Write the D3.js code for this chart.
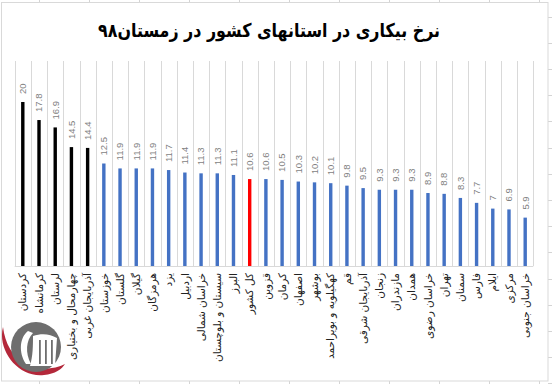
<!DOCTYPE html>
<html><head><meta charset="utf-8">
<script src="https://cdn.jsdelivr.net/npm/d3@7/dist/d3.min.js"></script>
<style>html,body{margin:0;padding:0;background:#fff;} svg{display:block;}</style>
</head><body>
<svg id="c" width="552" height="384"></svg>
<script>
const title = "نرخ بیکاری در استانهای کشور در زمستان۹۸";
const categories = [
  "کردستان","کرمانشاه","لرستان","چهارمحال و بختیاری","آذربایجان غربی",
  "خوزستان","گلستان","گیلان","هرمزگان","یزد","اردبیل","خراسان شمالی",
  "سیستان و بلوچستان","البرز","کل کشور","قزوین","کرمان","اصفهان","بوشهر",
  "کهگیلویه و بویراحمد","قم","آذربایجان شرقی","زنجان","مازندران","همدان",
  "خراسان رضوی","تهران","سمنان","فارس","ایلام","مرکزی","خراسان جنوبی"
];
const values = [20,17.8,16.9,14.5,14.4,12.5,11.9,11.9,11.9,11.7,11.4,11.3,
  11.3,11.1,10.6,10.6,10.5,10.3,10.2,10.1,9.8,9.5,9.3,9.3,9.3,8.9,8.8,8.3,7.7,7,6.9,5.9];
const topGroupCount = 5;
const nationalCategory = "کل کشور";
const yDomain = [0, 25];

const svg = d3.select("#c");
const grid = "#d9d9d9";

// spreadsheet cell lines around the chart
const cells = svg.append("g").attr("stroke", "#d4d4d4").attr("stroke-width", 1);
d3.range(39.5, 552, 50).forEach(x => {
  cells.append("line").attr("x1", x).attr("x2", x).attr("y1", 0).attr("y2", 2);
  cells.append("line").attr("x1", x).attr("x2", x).attr("y1", 381).attr("y2", 384);
});
d3.range(16.5, 384, 26.2).forEach(y => {
  cells.append("line").attr("x1", 548).attr("x2", 552).attr("y1", Math.round(y)+0.5).attr("y2", Math.round(y)+0.5);
});

// chart border
svg.append("rect").attr("x", 1.5).attr("y", 2.5).attr("width", 546.5).attr("height", 378.5)
  .attr("fill", "#fff").attr("stroke", grid);

const x = d3.scaleBand().domain(categories).range([14.7, 533.3]).padding(0);
const y = d3.scaleLinear().domain(yDomain).range([266, 61]);

// vertical grid lines at category boundaries
const gl = svg.append("g").attr("stroke", grid).attr("stroke-width", 1);
categories.concat([null]).forEach((c, i) => {
  const xx = c === null ? x.range()[1] : x(c);
  const px = Math.round(xx) + 0.5;
  gl.append("line").attr("x1", px).attr("x2", px).attr("y1", y(yDomain[1])).attr("y2", y(0));
});
// axis baseline
svg.append("line").attr("x1", x.range()[0]).attr("x2", x.range()[1])
  .attr("y1", Math.round(y(0)) + 0.5).attr("y2", Math.round(y(0)) + 0.5).attr("stroke", grid);

const color = (c, i) => c === nationalCategory ? "#ff0000" : (i < topGroupCount ? "#000000" : "#4472c4");
const bw = 3.4;
svg.append("g").selectAll("rect").data(categories).join("rect")
  .attr("x", c => x(c) + x.bandwidth() / 2 - bw / 2)
  .attr("width", bw)
  .attr("y", (c, i) => y(values[i]))
  .attr("height", (c, i) => y(0) - y(values[i]))
  .attr("fill", (c, i) => color(c, i));

// value labels
svg.append("g").selectAll("text").data(categories).join("text")
  .attr("transform", (c, i) => `translate(${x(c) + x.bandwidth() / 2},${y(values[i]) - 8}) rotate(-90)`)
  .attr("dy", "0.35em")
  .attr("text-anchor", "start")
  .attr("font-family", "Liberation Sans, Arial, sans-serif")
  .attr("font-size", "9.5px")
  .attr("fill", "#7f7f7f")
  .text((c, i) => values[i]);

// category labels
svg.append("g").selectAll("text").data(categories).join("text")
  .attr("transform", c => `translate(${x(c) + x.bandwidth() / 2},${y(0) + 7}) rotate(-90)`)
  .attr("dy", "0.35em")
  .attr("text-anchor", "end")
  .attr("font-family", "DejaVu Sans, sans-serif")
  .attr("font-size", "10.5px")
  .attr("fill", "#222")
  .text(c => c);

// title
svg.append("text").attr("x", 269).attr("y", 37).attr("text-anchor", "middle")
  .attr("font-family", "DejaVu Sans, sans-serif").attr("font-weight", "bold")
  .attr("font-size", "19px").attr("fill", "#000")
  .attr("textLength", 342).attr("lengthAdjust", "spacingAndGlyphs")
  .text(title);

// logo
const lg = svg.append("g");
lg.append("path").attr("fill", "#b3283a")
  .attr("d", "M3,327 C-3,350 18,378 44,375 C55,374 62,369 65,364 C55,369 40,371 27,365 C12,357 5,343 3,327 Z");
lg.append("circle").attr("cx", 36).attr("cy", 347).attr("r", 25).attr("fill", "#6e6e6e");
lg.append("path").attr("fill", "#fff")
  .attr("d", "M28,331 C20,337 18,352 26,364 L31,364 C25,353 26,340 33,333 Z");
lg.append("path").attr("fill", "#fff")
  .attr("d", "M33,336 C42,333 50,334 57,338 L55,366 L30,366 C33,356 33,345 33,336 Z");
lg.append("g").attr("fill", "#6e6e6e").selectAll("rect").data([39, 45, 51]).join("rect")
  .attr("x", d => d).attr("y", 340).attr("width", 1.8).attr("height", 24);
</script>
</body></html>
